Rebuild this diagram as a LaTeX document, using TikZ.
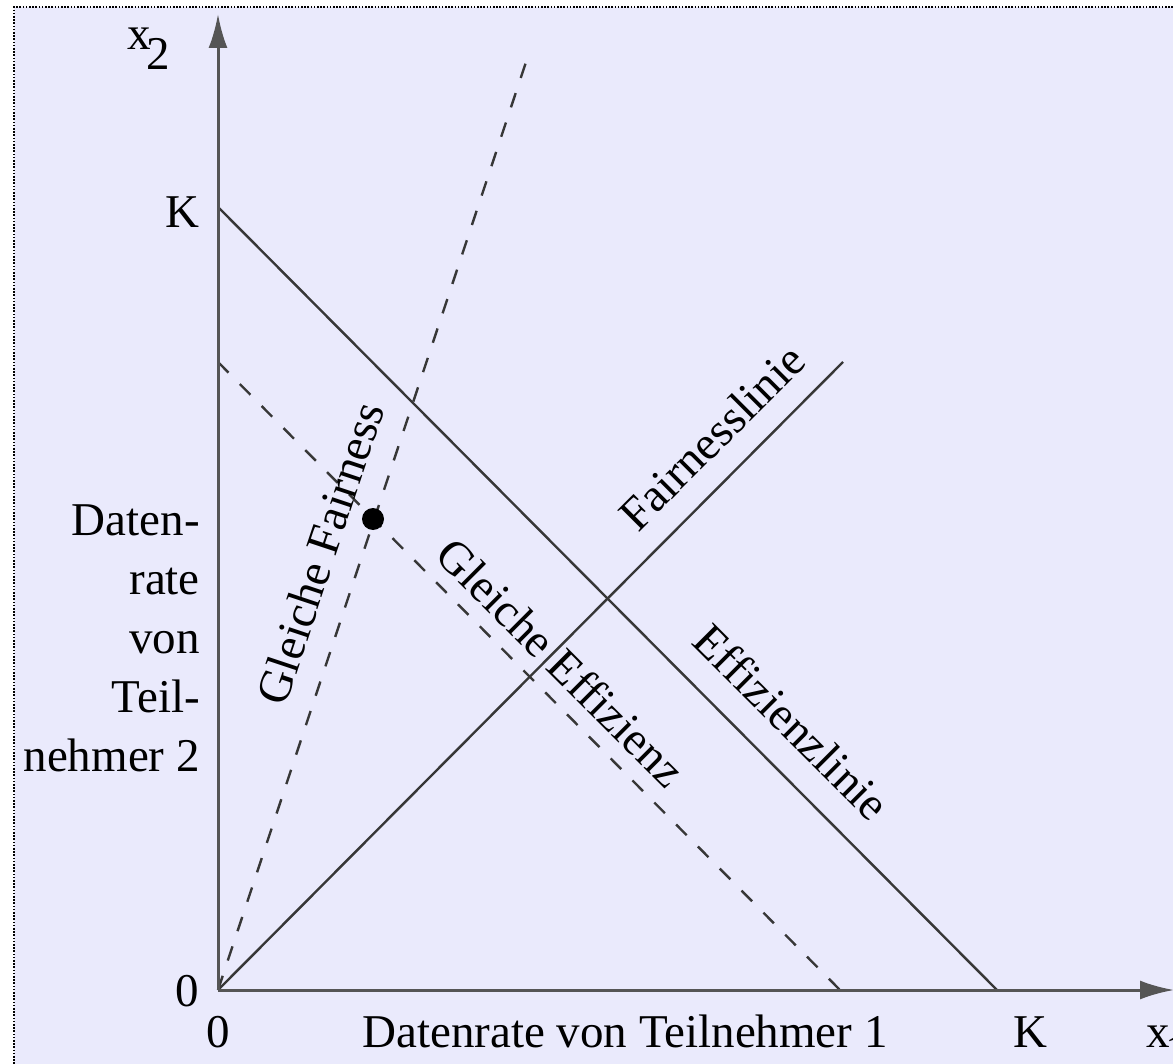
\documentclass[tikz,border=0pt]{standalone}
\usepackage{fontspec}
\setmainfont{Liberation Serif}
\usetikzlibrary{arrows.meta}
\definecolor{bgcol}{RGB}{234,234,252}
\definecolor{linecol}{RGB}{55,55,55}
\definecolor{axiscol}{RGB}{85,85,85}
\begin{document}
\begin{tikzpicture}[x=1pt,y=-1pt,
  lbl/.style={inner sep=0pt, font=\fontsize{47}{59}\selectfont},
  solidline/.style={draw=linecol, line width=2.4pt},
  dashline/.style={draw=linecol, line width=2.4pt, dash pattern=on 15pt off 16pt},
  axisline/.style={draw=axiscol, line width=3pt},
  tip/.style={-{Latex[length=34pt,width=19pt]}}]
\useasboundingbox (0,0) rectangle (1173,1064);
\clip (0,0) rectangle (1173,1064);
% background and border
\fill[white] (0,0) rectangle (1173,1064);
\fill[bgcol] (14,7) rectangle (1190,1080);
\draw[black, line width=2pt, dash pattern=on 1.6pt off 1.6pt] (14,1080) -- (14,7) -- (1190,7);
% coordinates
\coordinate (O) at (218,990);
\coordinate (Ytop) at (218,14);
\coordinate (Xend) at (1174,990);
\coordinate (KY) at (218,207);
\coordinate (KX) at (997,990);
\coordinate (EY) at (218,362);
\coordinate (EX) at (840,990);
\coordinate (FL) at (843,362);
\coordinate (GF) at (530,50);
% lines
\draw[solidline] (KY) -- (KX);
\draw[solidline] (O) -- (FL);
\draw[dashline] (EY) -- (EX);
\draw[dashline] (O) -- (GF);
% axes
\draw[axisline, tip] (O) -- (Ytop);
\draw[axisline, tip] (O) -- (Xend);
% point
\node[circle, fill=black, inner sep=0pt, minimum size=22pt] (pt) at (373,519) {};
% axis labels
\node[lbl, anchor=base west] (x2) at (127,50) {x\kern-0.08em\raisebox{-0.42em}{2}};
\node[lbl, anchor=base] (ky) at (182,228) {K};
\node[lbl, anchor=base] (zy) at (187,1006) {0};
\node[lbl, anchor=base] (zx) at (218,1047) {0};
\node[lbl, anchor=base] (xlab) at (625,1047) {Datenrate von Teilnehmer 1};
\node[lbl, anchor=base] (kx) at (1030,1047) {K};
\node[lbl, anchor=base west] (x1) at (1146,1047) {x\kern-0.08em\raisebox{-0.42em}{1}};
\node[lbl, anchor=north east, align=right] (ylab) at (200,505) {Daten-\\rate\\von\\Teil-\\nehmer 2};
% line labels
\node[lbl, rotate=71.6] (tgf) at (320,553) {Gleiche Fairness};
\node[lbl, rotate=45] (tfl) at (712,437) {Fairnesslinie};
\node[lbl, rotate=-45] (tel) at (792,722) {Effizienzlinie};
\node[lbl, rotate=-45] (tge) at (561,662) {Gleiche Effizienz};
\end{tikzpicture}
\end{document}
